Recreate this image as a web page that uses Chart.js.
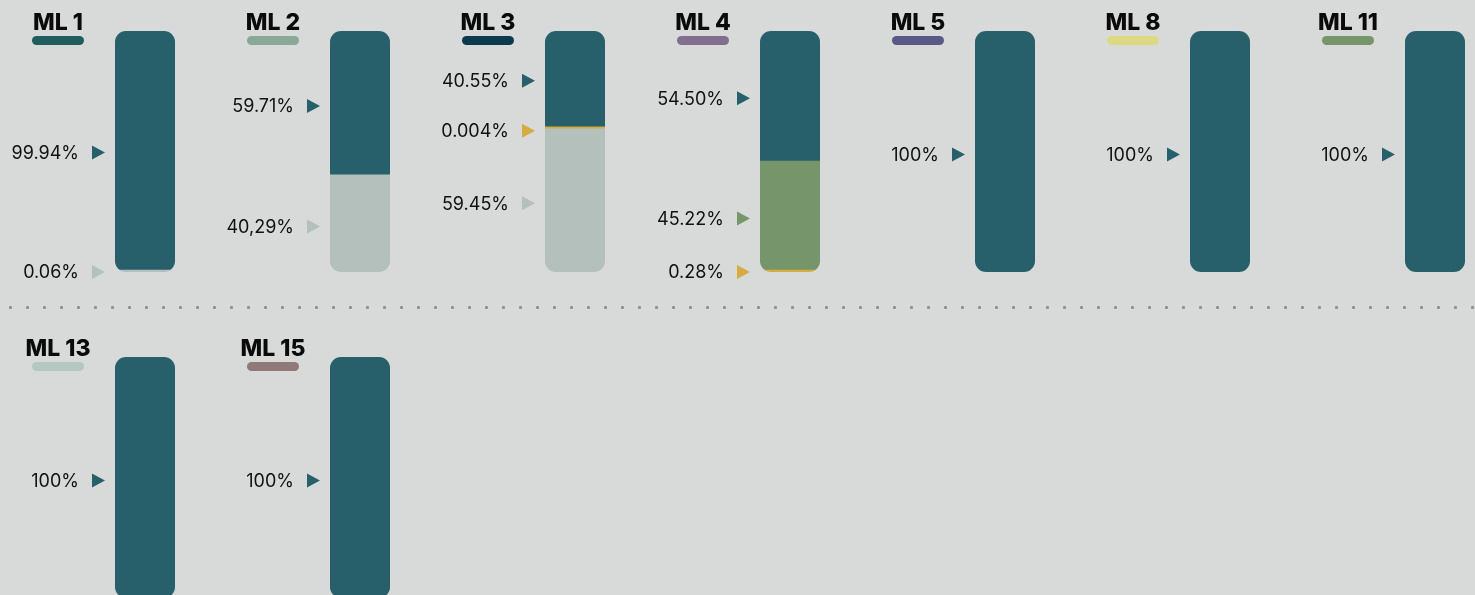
<!DOCTYPE html>
<html>
<head>
<meta charset="utf-8">
<script src="https://cdn.jsdelivr.net/npm/chart.js@4.4.1/dist/chart.umd.min.js"></script>
<style>
  html, body { margin: 0; padding: 0; }
  body { width: 1475px; height: 595px; background: #d8dad9; position: relative; overflow: hidden; font-family: Inter, sans-serif; }
  canvas { position: absolute; }
  .dots {
    position: absolute; left: 2px; top: 304px; width: 1473px; height: 7px;
    background-image: radial-gradient(circle, #8e9392 1.3px, transparent 1.8px);
    background-size: 17px 7px;
  }
</style>
</head>
<body>
<div class="dots"></div>
<script>
// panels, left to right, top row then bottom row
const panelNames = ["ML 1", "ML 2", "ML 3", "ML 4", "ML 5", "ML 8", "ML 11", "ML 13", "ML 15"];
const pillColors = ["#1f5d5e", "#8aa898", "#0c3b4d", "#826f90", "#595887", "#dcd983", "#77956a", "#b4c8c1", "#8f7a79"];

// segments listed from top of the bar to the bottom
const segValues = [
  [99.94, 0.06],
  [59.71, 40.29],
  [40.55, 0.004, 59.45],
  [54.50, 45.22, 0.28],
  [100],
  [100],
  [100],
  [100],
  [100],
];
const segLabels = [
  ["99.94%", "0.06%"],
  ["59.71%", "40,29%"],
  ["40.55%", "0.004%", "59.45%"],
  ["54.50%", "45.22%", "0.28%"],
  ["100%"],
  ["100%"],
  ["100%"],
  ["100%"],
  ["100%"],
];

const TEAL = "#27606a";
const LIGHT = "#b3c0bc";
const GOLD = "#d4ac42";
const GREEN = "#77956a";
const segColors = [
  [TEAL, LIGHT],
  [TEAL, LIGHT],
  [TEAL, GOLD, LIGHT],
  [TEAL, GREEN, GOLD],
  [TEAL],
  [TEAL],
  [TEAL],
  [TEAL],
  [TEAL],
];

const COL_W = 215;
const CANVAS_H = 300;
const BAR_LEFT = 115;
const BAR_W = 60;
const BAR_TOP = 31;
const BAR_H = 241;
const ROW_TOP = [0, 326];
const PER_ROW = 7;

const panelPlugin = {
  id: "panelDecor",
  beforeDatasetsDraw(chart) {
    const ctx = chart.ctx;
    const a = chart.chartArea;
    ctx.save();
    ctx.beginPath();
    ctx.roundRect(a.left, a.top, a.right - a.left, a.bottom - a.top, 11);
    ctx.clip();
  },
  afterDatasetsDraw(chart, args, opts) {
    const ctx = chart.ctx;
    ctx.restore();
    const a = chart.chartArea;
    const p = opts.panel;
    const n = segValues[p].length;

    // title + colour pill
    const cx = a.left - 57;
    ctx.fillStyle = "#0a0a0a";
    ctx.font = "800 23px Inter, sans-serif";
    ctx.textAlign = "center";
    ctx.textBaseline = "alphabetic";
    ctx.fillText(panelNames[p], cx, 30);
    ctx.fillStyle = pillColors[p];
    ctx.beginPath();
    ctx.roundRect(cx - 26, 36, 52, 9, 4.5);
    ctx.fill();

    // value labels with pointer triangles
    ctx.font = "18px Inter, sans-serif";
    ctx.textAlign = "right";
    ctx.textBaseline = "middle";
    for (let s = 0; s < n; s++) {
      const di = n - 1 - s;
      const el = chart.getDatasetMeta(di).data[0];
      const y = Math.min((el.y + el.base) / 2 + 3, a.bottom);
      ctx.fillStyle = "#111";
      ctx.fillText(segLabels[p][s], a.left - 36, y + 1);
      ctx.fillStyle = segColors[p][s];
      ctx.beginPath();
      ctx.moveTo(a.left - 23, y - 7);
      ctx.lineTo(a.left - 10, y);
      ctx.lineTo(a.left - 23, y + 7);
      ctx.closePath();
      ctx.fill();
    }
  },
};

panelNames.forEach((name, p) => {
  const row = Math.floor(p / PER_ROW);
  const col = p % PER_ROW;
  const canvas = document.createElement("canvas");
  canvas.width = COL_W;
  canvas.height = CANVAS_H;
  canvas.style.left = col * COL_W + "px";
  canvas.style.top = ROW_TOP[row] + "px";
  document.body.appendChild(canvas);

  // Chart.js stacks from the bottom, so reverse the top-to-bottom lists
  const vals = segValues[p].slice().reverse();
  const cols = segColors[p].slice().reverse();
  new Chart(canvas, {
    type: "bar",
    data: {
      labels: [name],
      datasets: vals.map((v, i) => ({
        data: [v],
        backgroundColor: cols[i],
        borderWidth: 0,
        minBarLength: 2,
        barPercentage: 1,
        categoryPercentage: 1,
      })),
    },
    options: {
      responsive: false,
      animation: false,
      devicePixelRatio: 1,
      layout: {
        padding: {
          left: BAR_LEFT,
          right: COL_W - BAR_LEFT - BAR_W,
          top: BAR_TOP,
          bottom: CANVAS_H - BAR_TOP - BAR_H,
        },
      },
      plugins: {
        legend: { display: false },
        tooltip: { enabled: false },
        panelDecor: { panel: p },
      },
      scales: {
        x: { stacked: true, display: false },
        y: { stacked: true, display: false, min: 0, max: 100 },
      },
    },
    plugins: [panelPlugin],
  });
});
</script>
</body>
</html>
